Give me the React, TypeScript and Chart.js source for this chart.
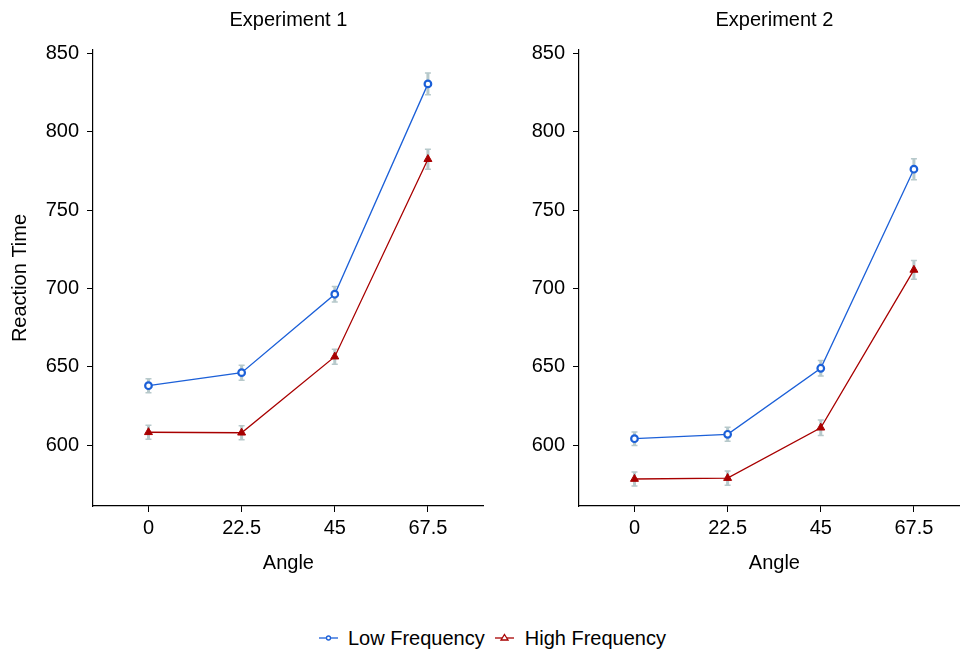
import React, { useEffect, useRef } from "react";
import { Chart, registerables } from "chart.js";

Chart.register(...registerables);

const angles = [0, 22.5, 45, 67.5];
const xTicks = [0, 22.5, 45, 67.5];
const yTicks = [600, 650, 700, 750, 800, 850];

const exp1Low = [638, 646.3, 696.3, 830.4];
const exp1High = [608.3, 608, 656.5, 782.4];
const exp1LowErr = [4.5, 4.8, 5, 7];
const exp1HighErr = [4.5, 4.5, 4.8, 6.4];

const exp2Low = [604.2, 607, 649.1, 776];
const exp2High = [578.5, 579.1, 611.2, 711.8];
const exp2LowErr = [4.3, 4.5, 5, 6.7];
const exp2HighErr = [4.5, 4.5, 4.9, 6];

const BLUE = "#1c60d8";
const RED = "#a80000";
const ERR = "#b7c9cb";
const FONT = "'Liberation Sans', Arial, Helvetica, sans-serif";

const errorBarPlugin = {
  id: "errorBars",
  beforeDatasetsDraw(chart: any) {
    const { ctx, scales } = chart;
    const xs = scales.x;
    const ys = scales.y;
    ctx.save();
    ctx.strokeStyle = ERR;
    chart.data.datasets.forEach((ds: any) => {
      const errs: number[] = ds.errors || [];
      ds.data.forEach((p: any, i: number) => {
        const e = errs[i];
        if (e == null) return;
        const px = xs.getPixelForValue(p.x);
        const top = ys.getPixelForValue(p.y + e);
        const bot = ys.getPixelForValue(p.y - e);
        ctx.lineWidth = 3;
        ctx.beginPath();
        ctx.moveTo(px, top);
        ctx.lineTo(px, bot);
        ctx.stroke();
        ctx.lineWidth = 1.5;
        ctx.beginPath();
        ctx.moveTo(px - 3, top);
        ctx.lineTo(px + 3, top);
        ctx.moveTo(px - 3, bot);
        ctx.lineTo(px + 3, bot);
        ctx.stroke();
      });
    });
    ctx.restore();
  },
};

const panelTitlePlugin = {
  id: "panelTitle",
  afterDraw(chart: any) {
    const text = chart.options.plugins.panelTitle?.text;
    if (!text) return;
    const { ctx, chartArea } = chart;
    ctx.save();
    ctx.fillStyle = "#000";
    ctx.font = `20px ${FONT}`;
    ctx.textAlign = "center";
    ctx.textBaseline = "middle";
    ctx.fillText(text, (chartArea.left + chartArea.right) / 2, 20);
    ctx.restore();
  },
};

function makeConfig(title: string, low: number[], high: number[], lowErr: number[], highErr: number[], showYTitle: boolean): any {
  const font = { family: FONT, size: 20, weight: "normal" as const };
  return {
    type: "line",
    data: {
      datasets: [
        {
          label: "Low Frequency",
          data: angles.map((x, i) => ({ x, y: low[i] })),
          errors: lowErr,
          borderColor: BLUE,
          borderWidth: 1.3,
          pointStyle: "circle",
          pointRadius: 3.3,
          pointBorderWidth: 2.2,
          pointBackgroundColor: "#ffffff",
          pointBorderColor: BLUE,
          tension: 0,
        },
        {
          label: "High Frequency",
          data: angles.map((x, i) => ({ x, y: high[i] })),
          errors: highErr,
          borderColor: RED,
          borderWidth: 1.3,
          pointStyle: "triangle",
          pointRadius: 4.6,
          pointBorderWidth: 1,
          pointBackgroundColor: RED,
          pointBorderColor: RED,
          tension: 0,
        },
      ],
    },
    options: {
      animation: false,
      responsive: false,
      maintainAspectRatio: false,
      layout: { padding: { left: 0, right: 6, top: 50, bottom: 0 } },
      plugins: {
        legend: { display: false },
        tooltip: { enabled: false },
        title: { display: false },
        panelTitle: { text: title },
      },
      scales: {
        x: {
          type: "linear",
          min: -13.4,
          max: 81,
          afterBuildTicks: (s: any) => {
            s.ticks = xTicks.map((v) => ({ value: v }));
          },
          afterFit: (s: any) => {
            s.height = 70;
          },
          ticks: {
            color: "#000",
            font,
            padding: 4,
            maxRotation: 0,
            callback: (v: any) => String(v),
          },
          grid: { drawOnChartArea: false, drawTicks: true, tickLength: 6, color: "#000", lineWidth: 1 },
          border: { display: true, color: "#000", width: 1.2 },
          title: { display: true, text: "Angle", color: "#000", font, padding: { top: 4, bottom: 1 } },
        },
        y: {
          type: "linear",
          min: 561.3,
          max: 852,
          afterBuildTicks: (s: any) => {
            s.ticks = yTicks.map((v) => ({ value: v }));
          },
          afterFit: (s: any) => {
            s.width = 93;
          },
          ticks: {
            color: "#000",
            font,
            padding: 8,
            callback: (v: any) => String(v),
          },
          grid: { drawOnChartArea: false, drawTicks: true, tickLength: 6, color: "#000", lineWidth: 1 },
          border: { display: true, color: "#000", width: 1.2 },
          title: { display: showYTitle, text: "Reaction Time", color: "#000", font, padding: { top: 8, bottom: 4 } },
        },
      },
    },
    plugins: [errorBarPlugin, panelTitlePlugin],
  };
}

function Panel(props: { left: number; config: any }) {
  const ref = useRef<HTMLCanvasElement | null>(null);
  useEffect(() => {
    if (!ref.current) return;
    const chart = new Chart(ref.current, props.config);
    return () => chart.destroy();
  }, []);
  return (
    <canvas
      ref={ref}
      width={490}
      height={576}
      style={{ position: "absolute", left: props.left, top: 0, width: 490, height: 576 }}
    />
  );
}

function LegendIcon(props: { color: string; kind: "circle" | "triangle" }) {
  return (
    <svg width={19} height={12} style={{ display: "block" }}>
      <line x1={0} y1={6} x2={19} y2={6} stroke={props.color} strokeWidth={1.3} />
      {props.kind === "circle" ? (
        <circle cx={9.5} cy={6} r={2} fill="#fff" stroke={props.color} strokeWidth={1.3} />
      ) : (
        <polygon points="9.5,2.5 13,8 6,8" fill="#fff" stroke={props.color} strokeWidth={1.3} />
      )}
    </svg>
  );
}

export default function App() {
  const cfg1 = makeConfig("Experiment 1", exp1Low, exp1High, exp1LowErr, exp1HighErr, true);
  const cfg2 = makeConfig("Experiment 2", exp2Low, exp2High, exp2LowErr, exp2HighErr, false);
  return (
    <div
      style={{
        position: "absolute",
        left: 0,
        top: 0,
        width: 960,
        height: 651,
        overflow: "hidden",
        background: "#fff",
        fontFamily: FONT,
      }}
    >
      <Panel left={0} config={cfg1} />
      <Panel left={486} config={cfg2} />
      <div
        style={{
          position: "absolute",
          left: 319,
          top: 626,
          height: 24,
          display: "flex",
          alignItems: "center",
          fontSize: 20,
          lineHeight: "24px",
          color: "#000",
          whiteSpace: "nowrap",
        }}
      >
        <LegendIcon color={BLUE} kind="circle" />
        <span style={{ marginLeft: 10 }}>Low Frequency</span>
        <span style={{ marginLeft: 10 }}>
          <LegendIcon color={RED} kind="triangle" />
        </span>
        <span style={{ marginLeft: 11 }}>High Frequency</span>
      </div>
    </div>
  );
}
